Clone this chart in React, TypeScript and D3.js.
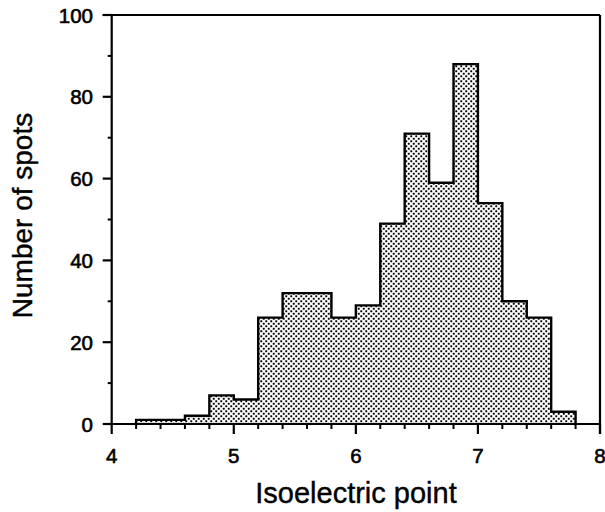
import React from "react";
import * as d3 from "d3";

const binStarts = [4.2, 4.4, 4.6, 4.8, 5.0, 5.2, 5.4, 5.6, 5.8, 6.0, 6.2, 6.4, 6.6, 6.8, 7.0, 7.2, 7.4, 7.6];
const counts = [1, 1, 2, 7, 6, 26, 32, 32, 26, 29, 49, 71, 59, 88, 54, 30, 26, 3];
const binWidth = 0.2;
const xTicks = [4, 5, 6, 7, 8];
const yTicks = [0, 20, 40, 60, 80, 100];
const xLabel = "Isoelectric point";
const yLabel = "Number of spots";

const W = 605;
const H = 512;
const left = 111.7;
const right = 600;
const top = 15;
const bottom = 424;

export default function App() {
  const x = d3.scaleLinear().domain([4, 8]).range([left, right]);
  const y = d3.scaleLinear().domain([0, 100]).range([bottom, top]);

  const xMinor = d3.range(4, 8.001, 0.2).filter((v) => Math.abs(v - Math.round(v)) > 1e-6);
  const yMinor = d3.range(10, 100, 20);

  const pts: [number, number][] = [];
  binStarts.forEach((s, i) => {
    const prev = i === 0 ? 0 : counts[i - 1];
    pts.push([x(s), y(prev)]);
    pts.push([x(s), y(counts[i])]);
    pts.push([x(s + binWidth), y(counts[i])]);
  });
  pts.push([x(binStarts[binStarts.length - 1] + binWidth), y(0)]);
  const outline = d3.line()(pts) as string;
  const areaPath = outline + "Z";

  const font = "Arial, 'Liberation Sans', Helvetica, sans-serif";

  return (
    <svg width={W} height={H} style={{ position: "absolute", left: 0, top: 0, background: "#fff" }}>
      <defs>
        <pattern id="dots" width={5} height={5} patternUnits="userSpaceOnUse">
          <rect x={0.3} y={0.3} width={1.9} height={1.9} fill="#000" />
          <rect x={2.8} y={2.8} width={1.9} height={1.9} fill="#000" />
        </pattern>
      </defs>
      <rect x={0} y={0} width={W} height={H} fill="#fff" />
      <path d={areaPath} fill="url(#dots)" stroke="none" />
      <path d={outline} fill="none" stroke="#000" strokeWidth={2.4} strokeLinejoin="miter" />

      <line x1={left} y1={bottom} x2={right} y2={bottom} stroke="#000" strokeWidth={2.2} />
      <line x1={left} y1={top} x2={left} y2={bottom} stroke="#000" strokeWidth={2.2} />
      <line x1={left - 9} y1={top} x2={right} y2={top} stroke="#000" strokeWidth={2.2} />
      <line x1={right} y1={top} x2={right} y2={bottom + 10} stroke="#000" strokeWidth={2.2} />

      {xTicks.map((t) => (
        <line key={"xt" + t} x1={x(t)} y1={bottom} x2={x(t)} y2={bottom + 10} stroke="#000" strokeWidth={2.2} />
      ))}
      {xMinor.map((t) => (
        <line key={"xm" + t} x1={x(t)} y1={bottom} x2={x(t)} y2={bottom + 5} stroke="#000" strokeWidth={2} />
      ))}
      {xTicks.map((t) => (
        <text key={"xl" + t} x={x(t)} y={463} textAnchor="middle" fontFamily={font} fontSize={20.5} fill="#000" stroke="#000" strokeWidth={0.6}>
          {t}
        </text>
      ))}

      {yTicks.map((t) => (
        <line key={"yt" + t} x1={left - 9} y1={y(t)} x2={left} y2={y(t)} stroke="#000" strokeWidth={2.2} />
      ))}
      {yMinor.map((t) => (
        <line key={"ym" + t} x1={left - 4} y1={y(t)} x2={left} y2={y(t)} stroke="#000" strokeWidth={2} />
      ))}
      {yTicks.map((t) => (
        <text key={"yl" + t} x={93} y={y(t) + 7.5} textAnchor="end" fontFamily={font} fontSize={20.5} fill="#000" stroke="#000" strokeWidth={0.6}>
          {t}
        </text>
      ))}

      <text x={356} y={503} textAnchor="middle" fontFamily={font} fontSize={29} fill="#000" stroke="#000" strokeWidth={0.4}>
        {xLabel}
      </text>
      <text transform={`translate(32,${215.5}) rotate(-90)`} textAnchor="middle" fontFamily={font} fontSize={28} fill="#000" stroke="#000" strokeWidth={0.4}>
        {yLabel}
      </text>
    </svg>
  );
}
